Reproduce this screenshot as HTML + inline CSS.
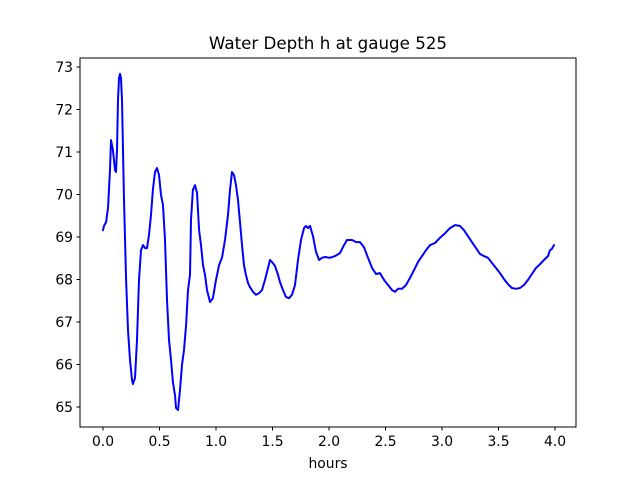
<!DOCTYPE html>
<html><head><meta charset="utf-8"><style>
html,body{margin:0;padding:0;background:#fff;}
svg{display:block;font-family:"DejaVu Sans","Liberation Sans",sans-serif;}
</style></head><body>
<svg id="chart" width="640" height="480">
<rect x="0" y="0" width="640" height="480" fill="#fff"/>
<text x="328" y="49" text-anchor="middle" font-size="16.7" fill="#000">Water Depth h at gauge 525</text>
<text x="328" y="468" text-anchor="middle" font-size="13.9" fill="#000">hours</text>
<g id="ticks"></g>
<polyline id="series" fill="none" stroke="#0000ff" stroke-width="2" stroke-linejoin="round" stroke-linecap="round"/>
<rect x="80" y="58" width="496" height="369" fill="none" stroke="#000" stroke-width="1"/>
</svg>
<script>
const hours=[0,.009,.027,.044,.062,.071,.088,.106,.115,.124,.133,.142,.150,.159,.168,.186,.204,.221,.239,.257,.265,.283,.301,.319,.336,.354,.372,.389,.407,.425,.442,.460,.478,.496,.513,.531,.549,.566,.584,.602,.619,.637,.646,.664,.681,.699,.717,.735,.752,.770,.779,.796,.814,.832,.850,.867,.885,.903,.920,.947,.973,1.000,1.027,1.053,1.080,1.106,1.124,1.142,1.159,1.177,1.195,1.212,1.230,1.248,1.265,1.283,1.301,1.327,1.354,1.381,1.407,1.434,1.460,1.478,1.496,1.522,1.549,1.566,1.593,1.619,1.646,1.673,1.699,1.726,1.752,1.779,1.796,1.814,1.832,1.858,1.885,1.912,1.938,1.965,2.009,2.053,2.097,2.133,2.159,2.204,2.239,2.274,2.310,2.345,2.381,2.416,2.451,2.487,2.522,2.558,2.584,2.611,2.646,2.681,2.717,2.752,2.788,2.823,2.858,2.894,2.938,2.982,3.027,3.071,3.115,3.159,3.195,3.230,3.265,3.301,3.336,3.372,3.407,3.442,3.478,3.513,3.549,3.584,3.619,3.655,3.690,3.726,3.761,3.796,3.832,3.867,3.903,3.938,3.956,3.973,3.991];
const depth=[69.16,69.26,69.35,69.68,70.58,71.28,71.05,70.58,70.53,71.05,72.22,72.74,72.84,72.74,72.22,69.87,67.99,66.81,66.11,65.64,65.54,65.68,66.58,67.99,68.69,68.81,68.74,68.74,69.05,69.52,70.11,70.53,70.62,70.46,69.99,69.75,68.93,67.52,66.58,66.11,65.59,65.28,64.98,64.93,65.40,65.99,66.34,66.93,67.75,68.11,69.40,70.11,70.22,70.04,69.16,68.81,68.34,68.11,67.75,67.47,67.56,67.99,68.34,68.51,68.93,69.52,70.11,70.53,70.46,70.22,69.87,69.35,68.81,68.34,68.11,67.92,67.82,67.71,67.64,67.68,67.75,67.99,68.27,68.46,68.41,68.32,68.11,67.94,67.75,67.59,67.56,67.64,67.87,68.46,68.93,69.21,69.26,69.21,69.26,69.02,68.65,68.46,68.51,68.53,68.51,68.55,68.62,68.81,68.93,68.93,68.88,68.88,68.76,68.51,68.27,68.13,68.15,67.99,67.87,67.75,67.71,67.78,67.78,67.87,68.04,68.22,68.41,68.55,68.69,68.81,68.86,68.98,69.09,69.21,69.28,69.26,69.16,69.02,68.88,68.74,68.60,68.55,68.51,68.39,68.27,68.15,68.01,67.89,67.80,67.78,67.80,67.87,67.99,68.13,68.27,68.36,68.46,68.55,68.69,68.72,68.81];
const xTicks=[0,0.5,1,1.5,2,2.5,3,3.5,4];
const xTickLabels=["0.0","0.5","1.0","1.5","2.0","2.5","3.0","3.5","4.0"];
const yTicks=[65,66,67,68,69,70,71,72,73];
const yTickLabels=["65","66","67","68","69","70","71","72","73"];
function xs(t){return 103+t*113;}
function ys(h){return 67+(73-h)*42.5;}
const NS="http://www.w3.org/2000/svg";
const g=document.getElementById('ticks');
xTicks.forEach((t,i)=>{
  const l=document.createElementNS(NS,'line');
  l.setAttribute('x1',xs(t));l.setAttribute('x2',xs(t));l.setAttribute('y1',427);l.setAttribute('y2',430.5);
  l.setAttribute('stroke','#000');
  
  
  g.appendChild(l);
  const tx=document.createElementNS(NS,'text');
  tx.setAttribute('x',xs(t));tx.setAttribute('y',446);tx.setAttribute('text-anchor','middle');tx.setAttribute('font-size','13.9');
  tx.textContent=xTickLabels[i];
  
  
  g.appendChild(tx);
});
yTicks.forEach((v,i)=>{
  const l=document.createElementNS(NS,'line');
  l.setAttribute('x1',76.5);l.setAttribute('x2',80);l.setAttribute('y1',ys(v));l.setAttribute('y2',ys(v));
  l.setAttribute('stroke','#000');
  
  
  g.appendChild(l);
  const tx=document.createElementNS(NS,'text');
  tx.setAttribute('x',73);tx.setAttribute('y',ys(v)+5);tx.setAttribute('text-anchor','end');tx.setAttribute('font-size','13.9');
  tx.textContent=yTickLabels[i];
  
  
  g.appendChild(tx);
});
document.getElementById('series').setAttribute('points',hours.map((t,i)=>xs(t).toFixed(1)+','+ys(depth[i]).toFixed(1)).join(' '));
</script>
</body></html>
